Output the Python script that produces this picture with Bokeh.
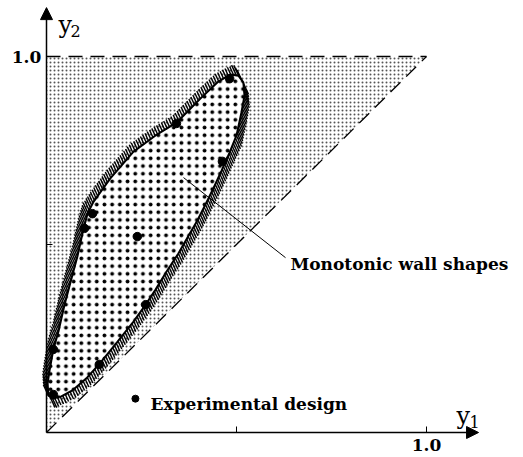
import numpy as np
from bokeh.plotting import figure
from bokeh.models import Arrow, NormalHead
from bokeh.core.properties import value
from bokeh.embed import file_html
from bokeh.resources import INLINE

# ---- data ----
# boundary of the region of monotonic wall shapes (y1, y2)
bound_x = [0.005, 0.003, 0.008, 0.018, 0.032, 0.047, 0.063, 0.082, 0.097, 0.108,
           0.124, 0.168, 0.229, 0.287, 0.342, 0.405, 0.453, 0.484, 0.505, 0.518,
           0.521, 0.513, 0.500, 0.482, 0.461, 0.439, 0.418, 0.397, 0.376, 0.347,
           0.316, 0.287, 0.261, 0.229, 0.187, 0.142, 0.105, 0.068, 0.039, 0.018]
bound_y = [0.098, 0.130, 0.165, 0.221, 0.271, 0.338, 0.399, 0.471, 0.540, 0.582,
           0.614, 0.676, 0.747, 0.790, 0.824, 0.888, 0.934, 0.952, 0.949, 0.931,
           0.896, 0.851, 0.790, 0.745, 0.697, 0.649, 0.606, 0.564, 0.527, 0.476,
           0.428, 0.380, 0.340, 0.295, 0.242, 0.186, 0.144, 0.112, 0.096, 0.090]
# experimental design points
design_x = [0.482, 0.342, 0.463, 0.121, 0.100, 0.239, 0.261, 0.018, 0.139, 0.018]
design_y = [0.941, 0.822, 0.721, 0.582, 0.543, 0.521, 0.340, 0.221, 0.181, 0.101]
# admissible triangle y2 >= y1
tri_x = [0.0, 0.0, 1.0]
tri_y = [0.0, 1.0, 1.0]
tick_vals = [0.5, 1.0]
tick_label = "1.0"
label_wall = "Monotonic wall shapes"
label_design = "Experimental design"

# ---- figure ----
W, H = 523, 457
ox, oy = 46, 432          # canvas position of origin
sx, sy = 380.0, 376.0     # pixels per unit
x0 = -ox / sx
x1 = (W - ox) / sx
y0 = -(H - oy) / sy
y1 = oy / sy

p = figure(width=W, height=H, x_range=(x0, x1), y_range=(y0, y1),
           output_backend="svg", toolbar_location=None,
           x_axis_location=None, y_axis_location=None, min_border=0)
p.outline_line_color = None
p.grid.visible = False
p.background_fill_color = "white"

SERIF = value("DejaVu Serif")

# stippled triangle
p.patch(tri_x, tri_y, fill_color="white", line_color=None,
        hatch_pattern="dot", hatch_scale=4, hatch_color="#555555", hatch_weight=1)

# dashed reference lines
p.line([0, 1], [1, 1], line_color="black", line_width=1.3, line_dash="14 8")
p.line([0, 1], [0, 1], line_color="black", line_width=1.3, line_dash="14 8")

# hatch strokes on the outside of the boundary
bx = np.array(bound_x) * sx
by = np.array(bound_y) * sy
area = 0.5 * np.sum(bx * np.roll(by, -1) - np.roll(bx, -1) * by)
tx = np.roll(bx, -1) - np.roll(bx, 1)
ty = np.roll(by, -1) - np.roll(by, 1)
nrm = np.hypot(tx, ty)
tx, ty = tx / nrm, ty / nrm
if area < 0:   # clockwise -> outward is the left normal
    nx, ny = -ty, tx
else:
    nx, ny = ty, -tx
cx = np.r_[bx, bx[0]]
cy = np.r_[by, by[0]]
cum = np.r_[0, np.cumsum(np.hypot(np.diff(cx), np.diff(cy)))]
s = np.arange(0, cum[-1], 2.8)
hx = np.interp(s, cum, cx)
hy = np.interp(s, cum, cy)
hnx = np.interp(s, cum, np.r_[nx, nx[0]])
hny = np.interp(s, cum, np.r_[ny, ny[0]])
hn = np.hypot(hnx, hny)
hnx, hny = hnx / hn, hny / hn
th = np.deg2rad(65)
ux, uy = np.cos(th), -np.sin(th)
dot = ux * hnx + uy * hny
sgn = np.where(dot < 0, -1.0, 1.0)
dot = np.abs(dot)
d = 8.0
L = np.minimum(d / np.maximum(dot, 1e-3), 12.0)
ex = hx + sgn * ux * L
ey = hy + sgn * uy * L
p.segment(x0=hx / sx, y0=hy / sy, x1=ex / sx, y1=ey / sy,
          line_color="black", line_width=1.4)

# inner dotted region
p.patch(bound_x, bound_y, fill_color="white", line_color="black", line_width=2,
        hatch_pattern="dot", hatch_scale=7.7, hatch_color="black", hatch_weight=3)

# design points
p.scatter(design_x, design_y, size=8.5, color="black")

# leader line and labels
p.line([0.3605, 0.629], [0.678, 0.465], line_color="black", line_width=1)
p.text([0.642], [0.449], text=[label_wall], text_font=SERIF, text_font_size="17px",
       text_font_style="bold", text_baseline="alphabetic", text_align="left")
p.scatter([0.234], [0.090], size=7, color="black")
p.text([0.274], [0.077], text=[label_design], text_font=SERIF, text_font_size="17px",
       text_font_style="bold", text_baseline="alphabetic", text_align="left")

# axes
head = dict(size=12, fill_color="black", line_color="black")
p.add_layout(Arrow(end=NormalHead(**head), x_start=0, y_start=0, x_end=0, y_end=1.130,
                   line_width=1.5, line_color="black"))
p.add_layout(Arrow(end=NormalHead(**head), x_start=0, y_start=0, x_end=1.137, y_end=0,
                   line_width=1.5, line_color="black"))
tl = 6.0
p.segment(x0=tick_vals, y0=[0, 0], x1=tick_vals, y1=[tl / sy] * 2,
          line_color="black", line_width=1)
p.segment(x0=[0, 0], y0=tick_vals, x1=[tl / sx] * 2, y1=tick_vals,
          line_color="black", line_width=1)
p.text([-0.0526], [1.0], text=[tick_label], text_font=SERIF, text_font_size="17px",
       text_font_style="bold", text_baseline="middle", text_align="center")
p.text([1.0], [-0.032], text=[tick_label], text_font=SERIF, text_font_size="17px",
       text_font_style="bold", text_baseline="middle", text_align="center")

# axis names y2, y1
p.text([0.0316], [1.085], text=["y"], text_font=SERIF, text_font_size="24px",
       text_baseline="alphabetic", text_align="left")
p.text([0.063], [1.069], text=["2"], text_font=SERIF, text_font_size="16px",
       text_baseline="alphabetic", text_align="left")
p.text([1.079], [0.045], text=["y"], text_font=SERIF, text_font_size="24px",
       text_baseline="alphabetic", text_align="left")
p.text([1.113], [0.027], text=["1"], text_font=SERIF, text_font_size="16px",
       text_baseline="alphabetic", text_align="left")

open("out.html", "w").write(file_html(p, INLINE))
